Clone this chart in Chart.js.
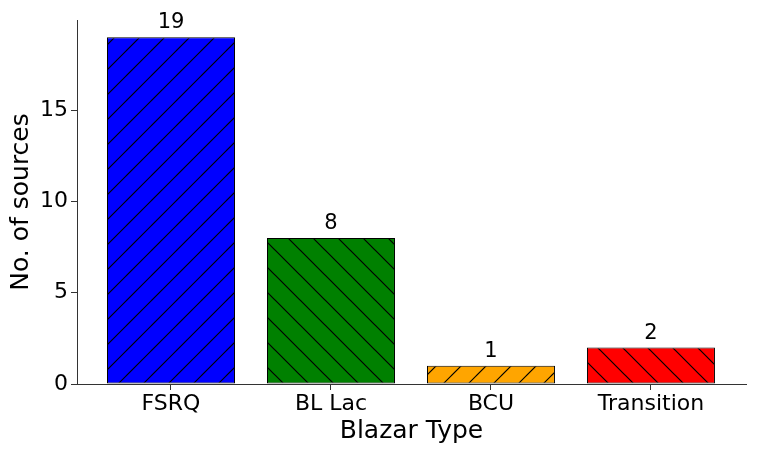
<!DOCTYPE html>
<html>
<head>
<meta charset="utf-8">
<script src="https://cdn.jsdelivr.net/npm/chart.js@4"></script>
<style>
  html, body { margin: 0; padding: 0; background: #fff; }
</style>
</head>
<body>
<canvas id="chart" width="757" height="455"></canvas>
<script>
// Data
const categories = ['FSRQ', 'BL Lac', 'BCU', 'Transition'];
const counts = [19, 8, 1, 2];
const barColors = ['#0000ff', '#008000', '#ffa500', '#ff0000'];
const hatches = ['/', '\\', '/', '\\'];
const yTicks = [0, 5, 10, 15];

const FONT = 'DejaVu Sans';
const AXIS = '#333';

// hatch fill, aligned to the canvas origin like matplotlib
function hatchPattern(color, dir) {
    const s = 25;
    const phase = dir === '/' ? 2 : 0;
    const c = document.createElement('canvas');
    c.width = s; c.height = s;
    const g = c.getContext('2d');
    g.fillStyle = color;
    g.fillRect(0, 0, s, s);
    g.strokeStyle = '#000';
    g.lineWidth = 1.2;
    g.beginPath();
    for (let k = -1; k <= 2; k++) {
        const c0 = k * s + phase;
        if (dir === '/') {
            g.moveTo(c0 + 5, -5); g.lineTo(-5, c0 + 5);
        } else {
            g.moveTo(c0 - 5, -5); g.lineTo(c0 + s + 5, s + 5);
        }
    }
    g.stroke();
    return g.createPattern(c, 'repeat');
}

// value labels above bars
const barLabels = {
    id: 'barLabels',
    afterDatasetsDraw(chart) {
        const ctx = chart.ctx;
        const meta = chart.getDatasetMeta(0);
        ctx.save();
        ctx.font = `21px "${FONT}"`;
        ctx.fillStyle = '#000';
        ctx.textAlign = 'center';
        ctx.textBaseline = 'alphabetic';
        meta.data.forEach((bar, i) => {
            ctx.fillText(String(counts[i]), bar.x, bar.y - 9);
        });
        ctx.restore();
    }
};

new Chart(document.getElementById('chart').getContext('2d'), {
    type: 'bar',
    data: {
        datasets: [{
            data: counts.map((v, i) => ({ x: i, y: v })),
            backgroundColor: barColors.map((c, i) => hatchPattern(c, hatches[i])),
            borderColor: '#000',
            borderWidth: 1,
            borderSkipped: false,
            barPercentage: 0.8,
            categoryPercentage: 1.0
        }]
    },
    options: {
        responsive: false,
        animation: false,
        layout: { padding: { left: 0, top: 20, right: 11, bottom: 0 } },
        plugins: { legend: { display: false }, tooltip: { enabled: false } },
        scales: {
            x: {
                type: 'linear',
                offset: false,
                min: -0.5875,
                max: 3.594,
                afterBuildTicks: (scale) => { scale.ticks = categories.map((_, i) => ({ value: i })); },
                afterFit: (scale) => { scale.height = 71; },
                ticks: {
                    callback: (v) => categories[v],
                    font: { family: FONT, size: 22 },
                    color: '#000',
                    padding: 1,
                    maxRotation: 0,
                    autoSkip: false
                },
                grid: { offset: false, drawOnChartArea: false, tickLength: 6, color: AXIS, lineWidth: 1 },
                border: { color: AXIS, width: 1 },
                title: {
                    display: true,
                    text: 'Blazar Type',
                    font: { family: FONT, size: 25 },
                    color: '#000',
                    padding: { top: 0, bottom: 9 }
                }
            },
            y: {
                min: 0,
                max: 19.95,
                afterBuildTicks: (scale) => { scale.ticks = yTicks.map(v => ({ value: v })); },
                afterFit: (scale) => { scale.width = 77; },
                ticks: {
                    font: { family: FONT, size: 22 },
                    color: '#000',
                    padding: 3
                },
                grid: { drawOnChartArea: false, tickLength: 6, color: AXIS, lineWidth: 1 },
                border: { color: AXIS, width: 1 },
                title: {
                    display: true,
                    text: 'No. of sources',
                    font: { family: FONT, size: 25 },
                    color: '#000',
                    padding: { top: 6, bottom: 0 }
                }
            }
        }
    },
    plugins: [barLabels]
});
</script>
</body>
</html>
